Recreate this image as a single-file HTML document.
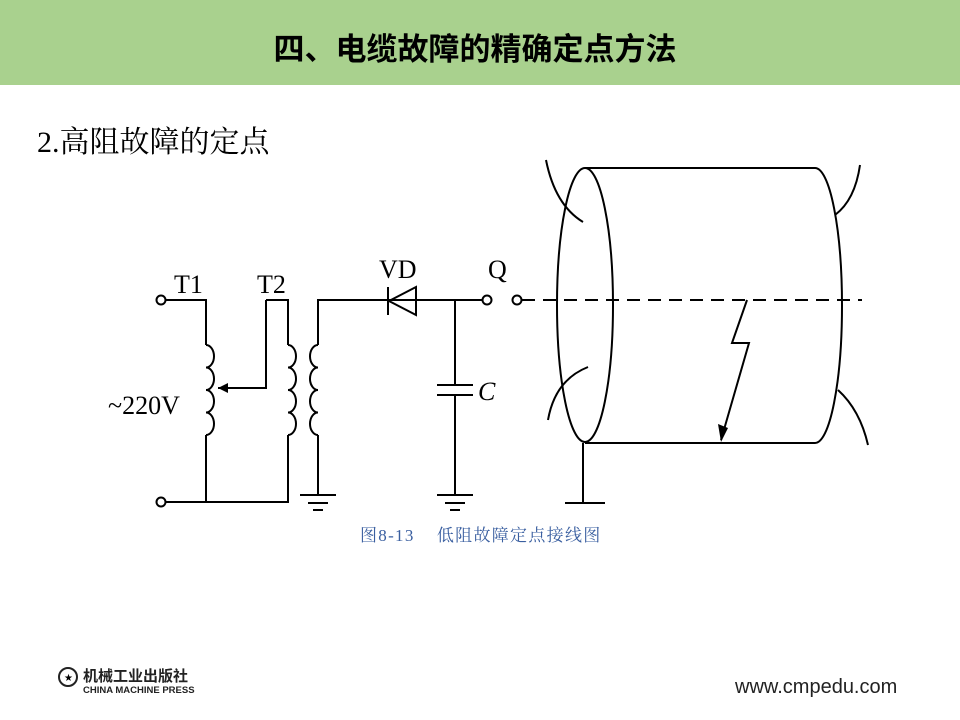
<!DOCTYPE html>
<html><head><meta charset="utf-8"><style>
body{margin:0;width:960px;height:720px;background:#fff;position:relative;overflow:hidden;font-family:"Liberation Sans","Noto Sans CJK SC",sans-serif}
.hdr{position:absolute;left:0;top:0;width:960px;height:85px;background:#a9d18e}
.t{position:absolute;left:0;width:950px;top:24px;text-align:center;font-size:31px;font-weight:bold;color:#000;font-family:"Liberation Sans","Noto Sans CJK SC",sans-serif}
.sub{position:absolute;left:37px;top:117px;font-size:30px;font-family:"Liberation Serif","Noto Serif CJK SC",serif}
.cap{position:absolute;left:360px;top:521px;font-size:17px;letter-spacing:1.3px;color:#3a5fa0;font-family:"Liberation Serif","Noto Serif CJK SC",serif;white-space:pre}
.url{position:absolute;left:735px;top:676px;font-size:20px;color:#222}
</style></head><body>
<div class="hdr"></div>
<div class="t">四、电缆故障的精确定点方法</div>
<div class="sub">2.高阻故障的定点</div>
<svg width="960" height="720" style="position:absolute;left:0;top:0" font-family="Liberation Serif,serif">
<g stroke="#000" stroke-width="2" fill="none">
<circle cx="161" cy="300" r="4.5"/><circle cx="161" cy="502" r="4.5"/>
<path d="M166 300H206V345"/>
<path d="M206 345a8 11.25 0 0 1 0 22.5a8 11.25 0 0 1 0 22.5a8 11.25 0 0 1 0 22.5a8 11.25 0 0 1 0 22.5"/>
<path d="M206 435V502M166 502H288V435"/>
<path d="M266 300V388H218"/>
<path d="M266 300H288V345"/>
<path d="M288 345a8 11.25 0 0 1 0 22.5a8 11.25 0 0 1 0 22.5a8 11.25 0 0 1 0 22.5a8 11.25 0 0 1 0 22.5"/>
<path d="M318 345a8 11.25 0 0 0 0 22.5a8 11.25 0 0 0 0 22.5a8 11.25 0 0 0 0 22.5a8 11.25 0 0 0 0 22.5"/>
<path d="M318 345V300H482M318 435V495"/>
<path d="M388 287V315M416 287V315L389 301Z"/>
<circle cx="487" cy="300" r="4.5"/><circle cx="517" cy="300" r="4.5"/>
<path d="M455 300V385M437 385H473M437 395H473M455 395V495"/>
<path d="M300 495H336M308 503H328M313 510H323"/>
<path d="M437 495H473M445 503H465M450 510H460"/>
<path d="M522 300H862" stroke-dasharray="13 8"/>
<ellipse cx="585" cy="305" rx="28" ry="137"/>
<path d="M585 168H815A27 137.5 0 0 1 815 443H585"/>
<path d="M583 443V503M565 503H605"/>
<path d="M546 160Q555 205 583 222M588 367Q555 380 548 420M860 165Q855 200 835 215M838 390Q860 410 868 445"/>
<path d="M747 300L732 343H749L721 440"/>
</g>
<path d="M721 442L718 424L728 428Z" fill="#000"/>
<path d="M218 388L228 383L228 393Z" fill="#000"/>
<g font-size="26" fill="#000">
<text x="174" y="293">T1</text><text x="257" y="293">T2</text>
<text x="379" y="278">VD</text><text x="488" y="278">Q</text>
<text x="108" y="414">~220V</text>
<text x="478" y="400" font-style="italic">C</text>
</g>
<g transform="translate(58,665)">
<circle cx="10" cy="12" r="9" fill="none" stroke="#222" stroke-width="2"/><text x="6" y="16" font-size="10">★</text>
<text x="25" y="16" font-size="15" font-weight="bold" font-family="Noto Sans CJK SC,sans-serif" fill="#222">机械工业出版社</text>
<text x="25" y="28" font-size="9.5" font-weight="bold" font-family="Liberation Sans,sans-serif" fill="#222">CHINA MACHINE PRESS</text>
</g>
</svg>
<div class="cap">图8-13    低阻故障定点接线图</div>
<div class="url">www.cmpedu.com</div>
</body></html>
